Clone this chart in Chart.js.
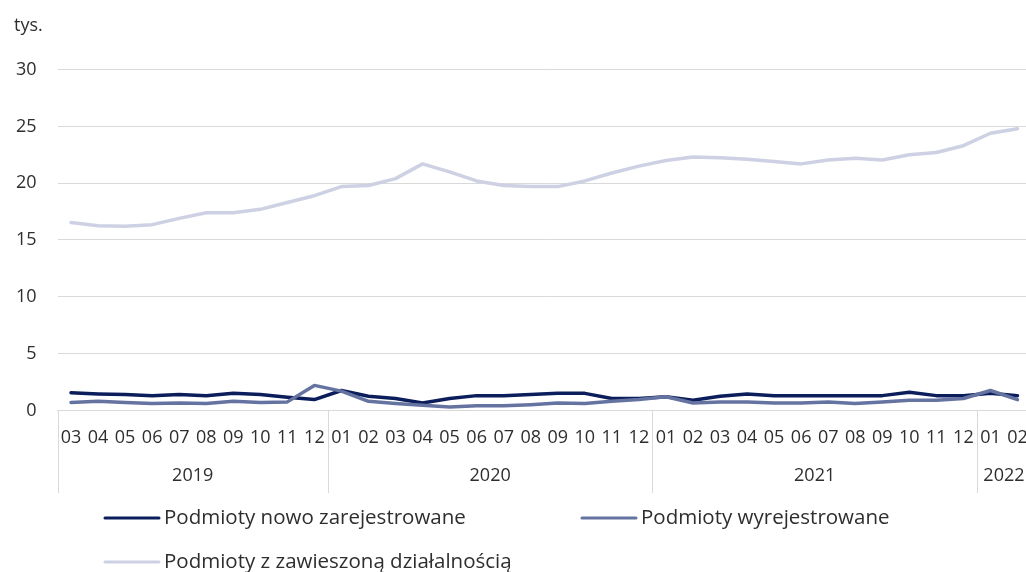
<!DOCTYPE html>
<html>
<head>
<meta charset="utf-8">
<script src="https://cdn.jsdelivr.net/npm/chart.js@4/dist/chart.umd.min.js"></script>
<style>
  html, body { margin: 0; padding: 0; background: #fff; overflow: hidden; }
  #chart { display: block; }
</style>
</head>
<body>
<canvas id="chart" width="1031" height="572"></canvas>
<script>
// Months 03/2019 - 02/2022
const months = ['03','04','05','06','07','08','09','10','11','12',
    '01','02','03','04','05','06','07','08','09','10','11','12',
    '01','02','03','04','05','06','07','08','09','10','11','12',
    '01','02'];
const years = ['2019', '2020', '2021', '2022'];
const yearSpans = [10, 12, 12, 2];

// values in thousands
const nowoZarejestrowane = [1.55, 1.45, 1.4, 1.3, 1.4, 1.3, 1.5, 1.4, 1.15, 0.95,
    1.75, 1.25, 1.05, 0.65, 1.05, 1.3, 1.3, 1.4, 1.5, 1.5, 1.05, 1.05,
    1.2, 0.9, 1.25, 1.45, 1.3, 1.3, 1.3, 1.3, 1.3, 1.6, 1.3, 1.3,
    1.5, 1.3];
const wyrejestrowane = [0.7, 0.8, 0.7, 0.6, 0.65, 0.6, 0.8, 0.7, 0.75, 2.2,
    1.7, 0.8, 0.6, 0.45, 0.3, 0.4, 0.4, 0.5, 0.65, 0.6, 0.8, 0.95,
    1.2, 0.65, 0.75, 0.75, 0.65, 0.65, 0.75, 0.6, 0.75, 0.9, 0.9, 1.05,
    1.75, 0.95];
const zawieszone = [16.55, 16.25, 16.2, 16.35, 16.9, 17.4, 17.4, 17.7, 18.3, 18.9,
    19.7, 19.8, 20.4, 21.7, 21.0, 20.2, 19.8, 19.7, 19.7, 20.2, 20.9, 21.5,
    22.0, 22.3, 22.25, 22.1, 21.9, 21.7, 22.05, 22.2, 22.05, 22.5, 22.7, 23.3,
    24.4, 24.8];

const seriesNames = ['Podmioty nowo zarejestrowane', 'Podmioty wyrejestrowane', 'Podmioty z zawieszoną działalnością'];
const seriesColors = ['#0b1e5b', '#6573a0', '#cdd1e3'];

const FONT = "'Open Sans', sans-serif";
const TEXT = '#2e2e2e';
const GRID = '#d9d9d9';

// year row under the month labels + separators
const yearAxis = {
    id: 'yearAxis',
    afterDraw(chart) {
        const ctx = chart.ctx;
        const x = chart.scales.x;
        const area = chart.chartArea;
        const top = area.bottom;
        const bottom = 493;
        const edges = [area.left];
        let idx = 0;
        yearSpans.forEach(n => {
            idx += n;
            if (idx < months.length) {
                edges.push((x.getPixelForValue(idx - 1) + x.getPixelForValue(idx)) / 2);
            } else {
                edges.push(area.right);
            }
        });
        ctx.save();
        ctx.strokeStyle = GRID;
        ctx.lineWidth = 1;
        for (let i = 0; i < edges.length - 1; i++) {
            ctx.beginPath();
            ctx.moveTo(Math.round(edges[i]) + 0.5, top);
            ctx.lineTo(Math.round(edges[i]) + 0.5, bottom);
            ctx.stroke();
        }
        ctx.fillStyle = TEXT;
        ctx.font = '18px ' + FONT;
        ctx.textAlign = 'center';
        ctx.textBaseline = 'middle';
        years.forEach((y, i) => {
            ctx.fillText(y, (edges[i] + edges[i + 1]) / 2, 476);
        });
        ctx.restore();
    }
};

// legend laid out like the original (two columns)
const legendBox = {
    id: 'legendBox',
    afterDraw(chart) {
        const ctx = chart.ctx;
        const spots = [[105, 518], [582, 518], [105, 562]];
        ctx.save();
        ctx.font = '20.5px ' + FONT;
        ctx.textBaseline = 'middle';
        ctx.textAlign = 'left';
        chart.data.datasets.forEach((ds, i) => {
            const [lx, ly] = spots[i];
            ctx.strokeStyle = ds.borderColor;
            ctx.lineWidth = 3;
            ctx.lineCap = 'round';
            ctx.beginPath();
            ctx.moveTo(lx, ly);
            ctx.lineTo(lx + 54, ly);
            ctx.stroke();
            ctx.fillStyle = TEXT;
            ctx.fillText(ds.label, lx + 59, ly);
        });
        ctx.restore();
    }
};

const datasets = [nowoZarejestrowane, wyrejestrowane, zawieszone].map((d, i) => ({
    label: seriesNames[i],
    data: d,
    borderColor: seriesColors[i],
    backgroundColor: seriesColors[i],
    borderWidth: 3.5,
    pointRadius: 0,
    tension: 0,
    borderJoinStyle: 'round',
    borderCapStyle: 'round',
    order: [2, 1, 0][i]
}));

new Chart(document.getElementById('chart'), {
    type: 'line',
    data: { labels: months, datasets: datasets },
    options: {
        responsive: false,
        animation: false,
        layout: { padding: { left: 14, right: 0, top: 0, bottom: 106 } },
        plugins: {
            legend: { display: false },
            tooltip: { enabled: false },
            title: {
                display: true,
                text: 'tys.',
                align: 'start',
                color: TEXT,
                font: { family: FONT, size: 18, weight: 'normal' },
                padding: { top: 15, bottom: 33 }
            }
        },
        scales: {
            x: {
                offset: true,
                grid: { display: false, drawTicks: false },
                border: { color: GRID },
                ticks: {
                    color: TEXT,
                    font: { family: FONT, size: 18 },
                    padding: 17,
                    maxRotation: 0,
                    autoSkip: false
                },
                // labels sit inside their category slots, no extra side padding
                afterFit(scale) { scale.paddingLeft = 0; scale.paddingRight = 0; }
            },
            y: {
                min: 0,
                max: 30,
                grid: { color: GRID, drawTicks: false },
                border: { display: false },
                ticks: {
                    stepSize: 5,
                    color: TEXT,
                    font: { family: FONT, size: 18 },
                    padding: 21
                },
                afterFit(scale) { scale.width = 43.5; }
            }
        }
    },
    plugins: [yearAxis, legendBox]
});
</script>
</body>
</html>
